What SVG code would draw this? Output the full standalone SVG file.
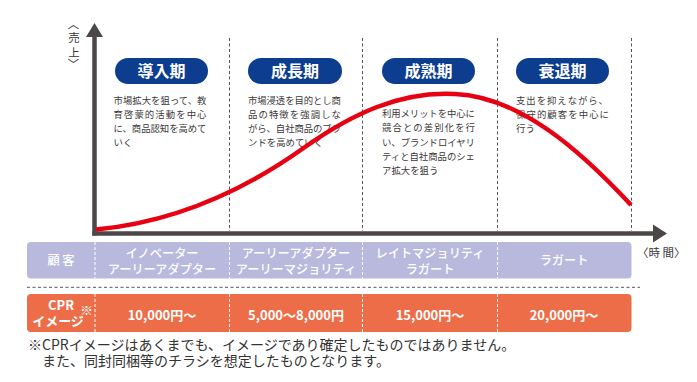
<svg xmlns="http://www.w3.org/2000/svg" width="697" height="382" viewBox="0 0 697 382">
<defs>
<style>
.jp{font-family:"Noto Sans CJK JP","Noto Sans",sans-serif;}
.pill{fill:#0c3d8f;}
.pilltxt{font-family:"Noto Sans CJK JP",sans-serif;font-size:16px;font-weight:700;fill:#fff;text-anchor:middle;}
.desc{font-family:"Noto Sans CJK JP",sans-serif;font-size:9.4px;fill:#3c3838;}
.vdash{stroke:#555;stroke-width:1;stroke-dasharray:3,2.5;fill:none;}
.wdash{stroke:#fff;stroke-width:1;stroke-dasharray:3,2;fill:none;}
.axis{stroke:#4b4746;stroke-width:4.5;fill:none;}
.ah{fill:#4b4746;}
.rowtxt{font-family:"Noto Sans CJK JP",sans-serif;font-size:12.2px;fill:#fff;text-anchor:middle;font-weight:500;}
.amt{font-family:"Noto Sans CJK JP",sans-serif;font-size:13px;fill:#fff;text-anchor:middle;font-weight:700;}
.lbl{font-family:"Noto Sans CJK JP",sans-serif;font-size:11.5px;fill:#3c3838;}
.note{font-family:"Noto Sans CJK JP",sans-serif;font-size:14px;fill:#333;}
</style>
</defs>
<rect width="697" height="382" fill="#fff"/>

<!-- phase dividers -->
<g id="dividers">
<line class="vdash" x1="229.5" y1="38" x2="229.5" y2="231"/>
<line class="vdash" x1="362.5" y1="38" x2="362.5" y2="231"/>
<line class="vdash" x1="497.5" y1="38" x2="497.5" y2="231"/>
<line class="vdash" x1="631.5" y1="38" x2="631.5" y2="231"/>
</g>

<!-- axes -->
<g id="axes">
<line class="axis" x1="94.5" y1="35" x2="94.5" y2="235.5"/>
<polygon class="ah" points="94.5,23 86,37 103,37"/>
<line class="axis" x1="92.3" y1="233.5" x2="655" y2="233.5"/>
<polygon class="ah" points="667,233.5 653,224.5 653,242.5"/>
<text class="lbl" x="74" y="24" text-anchor="middle" dominant-baseline="central" transform="rotate(90 74 24)">〈</text>
<text class="lbl" x="74" y="41.5" text-anchor="middle">売</text>
<text class="lbl" x="74" y="56.5" text-anchor="middle">上</text>
<text class="lbl" x="74" y="64" text-anchor="middle" dominant-baseline="central" transform="rotate(90 74 64)">〉</text>
<text class="lbl" x="637" y="256.5">〈時 間〉</text>
</g>

<!-- phases -->
<g id="phase-introduction">
<rect class="pill" x="115" y="58" width="93" height="26" rx="13"/>
<text class="pilltxt" x="161.5" y="77">導入期</text>
<text class="desc" x="113.5" y="104" textLength="93" lengthAdjust="spacing">市場拡大を狙って、教</text>
<text class="desc" x="113.5" y="118" textLength="93" lengthAdjust="spacing">育啓蒙的活動を中心</text>
<text class="desc" x="113.5" y="132" textLength="93" lengthAdjust="spacing">に、商品認知を高めて</text>
<text class="desc" x="113.5" y="146">いく</text>
</g>
<g id="phase-growth">
<rect class="pill" x="248" y="58" width="94" height="26" rx="13"/>
<text class="pilltxt" x="295" y="77">成長期</text>
<text class="desc" x="248" y="103.5" textLength="93" lengthAdjust="spacing">市場浸透を目的とし商</text>
<text class="desc" x="248" y="117.5" textLength="93" lengthAdjust="spacing">品の特徴を強調しな</text>
<text class="desc" x="248" y="131.5" textLength="93" lengthAdjust="spacing">がら、自社商品のブラ</text>
<text class="desc" x="248" y="145.5">ンドを高めていく</text>
</g>
<g id="phase-maturity">
<rect class="pill" x="382" y="58" width="93" height="26" rx="13"/>
<text class="pilltxt" x="428.5" y="77">成熟期</text>
<text class="desc" x="382" y="117" textLength="93" lengthAdjust="spacing">利用メリットを中心に</text>
<text class="desc" x="382" y="131.3" textLength="93" lengthAdjust="spacing">競合との差別化を行</text>
<text class="desc" x="382" y="145.6" textLength="93" lengthAdjust="spacing">い、ブランドロイヤリ</text>
<text class="desc" x="382" y="160" textLength="93" lengthAdjust="spacing">ティと自社商品のシェ</text>
<text class="desc" x="382" y="174.3">ア拡大を狙う</text>
</g>
<g id="phase-decline">
<rect class="pill" x="516" y="58" width="93" height="26" rx="13"/>
<text class="pilltxt" x="562.5" y="77">衰退期</text>
<text class="desc" x="516" y="103.5" textLength="92" lengthAdjust="spacing">支出を抑えながら、</text>
<text class="desc" x="516" y="117.5" textLength="93" lengthAdjust="spacing">保守的顧客を中心に</text>
<text class="desc" x="516" y="131.5">行う</text>
</g>

<!-- sales curve -->
<g id="connectors">
<path d="M96,229.5 C175,222 245,190 305,147 C352,114 400,91 455,94 C520,97 580,150 631,205" fill="none" stroke="#e60012" stroke-width="4.5" stroke-linecap="butt"/>
</g>

<!-- customer row -->
<g id="row-customer">
<rect x="27" y="242" width="604.5" height="36.5" rx="4" fill="#b8b9dc"/>
<line class="wdash" x1="95" y1="242" x2="95" y2="278.5"/>
<line class="wdash" x1="229.5" y1="242" x2="229.5" y2="278.5"/>
<line class="wdash" x1="362.5" y1="242" x2="362.5" y2="278.5"/>
<line class="wdash" x1="497.5" y1="242" x2="497.5" y2="278.5"/>
<text class="rowtxt" x="61" y="265" font-weight="700" font-size="11.5">顧 客</text>
<text class="rowtxt"><tspan x="162" y="258">イノベーター</tspan><tspan x="162" y="273.5">アーリーアダプター</tspan></text>
<text class="rowtxt"><tspan x="296" y="258">アーリーアダプター</tspan><tspan x="296" y="273.5">アーリーマジョリティ</tspan></text>
<text class="rowtxt"><tspan x="430" y="258">レイトマジョリティ</tspan><tspan x="430" y="273.5">ラガート</tspan></text>
<text class="rowtxt" x="564" y="265">ラガート</text>
</g>

<line x1="27" y1="287.3" x2="640" y2="287.3" stroke="#555" stroke-width="1" stroke-dasharray="3,2.5"/>

<!-- CPR row -->
<g id="row-cpr">
<rect x="27" y="294" width="604.5" height="38" rx="4" fill="#ec6d48"/>
<line class="wdash" x1="95" y1="294" x2="95" y2="332"/>
<line class="wdash" x1="229.5" y1="294" x2="229.5" y2="332"/>
<line class="wdash" x1="362.5" y1="294" x2="362.5" y2="332"/>
<line class="wdash" x1="497.5" y1="294" x2="497.5" y2="332"/>
<text class="amt" x="61" y="309.5" font-size="12.5">CPR</text>
<text class="amt" x="58" y="326" font-size="12">イメージ</text>
<text class="amt" x="86.5" y="315" font-size="6" text-anchor="start">※</text>
<text class="amt" x="162" y="319.5">10,000円〜</text>
<text class="amt" x="296" y="319.5">5,000〜8,000円</text>
<text class="amt" x="430" y="319.5">15,000円〜</text>
<text class="amt" x="564" y="319.5">20,000円〜</text>
</g>

<g id="footnote">
<text class="note"><tspan x="28" y="349.5">※CPRイメージはあくまでも、イメージであり確定したものではありません。</tspan><tspan x="42" y="366">また、同封同梱等のチラシを想定したものとなります。</tspan></text>
</g>
</svg>
